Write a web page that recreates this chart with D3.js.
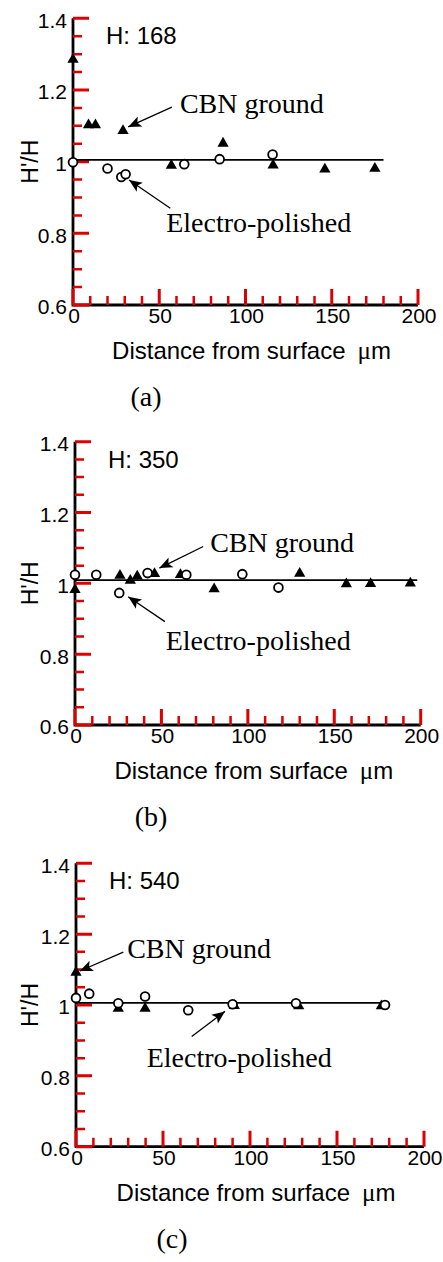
<!DOCTYPE html>
<html lang="en">
<head>
<meta charset="UTF-8">
<title>H'/H vs distance from surface</title>
<script src="https://cdn.jsdelivr.net/npm/d3@7"></script>
</head>
<body style="margin:0">
<svg id="chart" width="443" height="1262"></svg>
<script>
const SANS = "'Liberation Sans', Arial, sans-serif";
const SERIF = "'Liberation Serif', 'Times New Roman', serif";

// ticks
const xMajor = [0, 50, 100, 150, 200];
const xMajorLabels = ["0", "50", "100", "150", "200"];
const xMinor = [10, 20, 30, 40, 60, 70, 80, 90, 110, 120, 130, 140, 160, 170, 180, 190];
const yMajor = [0.6, 0.8, 1, 1.2, 1.4];
const yMajorLabels = ["0.6", "0.8", "1", "1.2", "1.4"];
const yMinor = [0.65, 0.7, 0.75, 0.85, 0.9, 0.95, 1.05, 1.1, 1.15, 1.25, 1.3, 1.35];

// (a) H: 168
const distA_cbn  = [0, 9, 13, 29, 57, 87, 116, 146, 175];
const ratioA_cbn = [1.285, 1.102, 1.102, 1.086, 0.989, 1.051, 0.99, 0.979, 0.981];
const distA_ep   = [0, 20, 28, 30.5, 64.5, 85, 115.7];
const ratioA_ep  = [0.998, 0.981, 0.957, 0.965, 0.993, 1.007, 1.02];

// (b) H: 350
const distB_cbn  = [0, 26, 32, 36, 46, 61, 80.5, 130, 157, 171, 194];
const ratioB_cbn = [0.982, 1.022, 1.008, 1.02, 1.027, 1.024, 0.984, 1.028, 0.998, 0.999, 1.0];
const distB_ep   = [0, 12.3, 25.6, 42, 64.4, 96.8, 117.7];
const ratioB_ep  = [1.024, 1.024, 0.973, 1.029, 1.024, 1.026, 0.988];

// (c) H: 540
const distC_cbn  = [0, 24.3, 39.7, 91, 128, 175.5];
const ratioC_cbn = [1.092, 0.99, 0.99, 0.998, 0.997, 0.997];
const distC_ep   = [0, 7.6, 24.3, 39.7, 64.5, 90, 126.4, 177.6];
const ratioC_ep  = [1.02, 1.032, 1.005, 1.024, 0.985, 1.002, 1.005, 1.0];

const panels = [
    { x0: 73, x1: 418, yb: 305, yt: 18.3, hard: "H: 168", cap: "(a)", capX: 146,
      cbn: distA_cbn.map((d, i) => [d, ratioA_cbn[i]]),
      ep: distA_ep.map((d, i) => [d, ratioA_ep[i]]),
      ref: [0, 180, 1.005],
      cbnArrow: [[57.3, 1.152], [32, 1.097]], cbnText: [62, 1.137],
      epArrow: [[56.4, 0.870], [32.5, 0.949]], epText: [54, 0.803] },
    { x0: 75, x1: 420.7, yb: 725, yt: 441.7, hard: "H: 350", cap: "(b)", capX: 151,
      cbn: distB_cbn.map((d, i) => [d, ratioB_cbn[i]]),
      ep: distB_ep.map((d, i) => [d, ratioB_ep[i]]),
      ref: [0, 198, 1.009],
      cbnArrow: [[74.2, 1.104], [48.8, 1.043]], cbnText: [78.2, 1.089],
      epArrow: [[52, 0.892], [30.8, 0.962]], epText: [52.5, 0.812] },
    { x0: 76, x1: 424, yb: 1146.7, yt: 863.3, hard: "H: 540", cap: "(c)", capX: 172,
      cbn: distC_cbn.map((d, i) => [d, ratioC_cbn[i]]),
      ep: distC_ep.map((d, i) => [d, ratioC_ep[i]]),
      ref: [0, 178, 1.006],
      cbnArrow: [[27.2, 1.149], [2.2, 1.096]], cbnText: [29.4, 1.133],
      epArrow: [[66.5, 0.911], [85.6, 0.982]], epText: [40.6, 0.826] }
];

const svg = d3.select("#chart");
svg.append("rect").attr("width", 443).attr("height", 1262).attr("fill", "#fff");

panels.forEach(p => {
    const x = d3.scaleLinear().domain([0, 200]).range([p.x0, p.x1]);
    const y = d3.scaleLinear().domain([0.6, 1.4]).range([p.yb, p.yt]);
    const g = svg.append("g");

    // axis lines
    g.append("path")
        .attr("d", `M${p.x0},${y(1.4)}V${p.yb}H${x(200)}`)
        .attr("fill", "none").attr("stroke", "#000").attr("stroke-width", 2.8);

    // inward ticks
    const major = [
        ...yMajor.map(v => `M${p.x0},${y(v)}h16`),
        ...xMajor.map(v => `M${x(v)},${p.yb}v-16`)
    ].join("");
    const minor = [
        ...yMinor.map(v => `M${p.x0},${y(v)}h9`),
        ...xMinor.map(v => `M${x(v)},${p.yb}v-9`)
    ].join("");
    g.append("path").attr("d", major)
        .attr("fill", "none").attr("stroke", "#d00").attr("stroke-width", 3);
    g.append("path").attr("d", minor)
        .attr("fill", "none").attr("stroke", "#d00").attr("stroke-width", 2.5);

    // tick labels
    g.selectAll(".ylab").data(yMajor).join("text")
        .attr("class", "ylab")
        .attr("x", p.x0 - 6).attr("y", d => y(d))
        .attr("dy", "0.45em").attr("text-anchor", "end")
        .attr("font-family", SANS).attr("font-size", 21)
        .text((d, i) => yMajorLabels[i]);
    g.selectAll(".xlab").data(xMajor).join("text")
        .attr("class", "xlab")
        .attr("x", d => x(d) + 1).attr("y", p.yb + 3)
        .attr("dy", "0.72em").attr("text-anchor", "middle")
        .attr("font-family", SANS).attr("font-size", 21)
        .text((d, i) => xMajorLabels[i]);

    // reference line H'/H = 1
    g.append("line")
        .attr("x1", x(p.ref[0])).attr("x2", x(p.ref[1]))
        .attr("y1", y(p.ref[2])).attr("y2", y(p.ref[2]))
        .attr("stroke", "#000").attr("stroke-width", 1.6);

    // CBN ground: filled triangles
    g.selectAll(".tri").data(p.cbn).join("path")
        .attr("class", "tri")
        .attr("transform", d => `translate(${x(d[0])},${y(d[1])})`)
        .attr("d", d3.symbol(d3.symbolTriangle, 55))
        .attr("fill", "#000");

    // Electro-polished: open circles
    g.selectAll(".circ").data(p.ep).join("circle")
        .attr("class", "circ")
        .attr("cx", d => x(d[0])).attr("cy", d => y(d[1]))
        .attr("r", 4.4)
        .attr("fill", "#fff").attr("stroke", "#000").attr("stroke-width", 1.8);

    // annotations: line plus a drawn arrowhead
    [[p.cbnArrow, p.cbnText, "CBN ground"], [p.epArrow, p.epText, "Electro-polished"]].forEach(([arr, pos, label]) => {
        const [ax, ay] = [x(arr[0][0]), y(arr[0][1])];
        const [bx, by] = [x(arr[1][0]), y(arr[1][1])];
        const ang = Math.atan2(by - ay, bx - ax) * 180 / Math.PI;
        g.append("line")
            .attr("x1", ax).attr("y1", ay).attr("x2", bx).attr("y2", by)
            .attr("stroke", "#000").attr("stroke-width", 1.3);
        g.append("path")
            .attr("transform", `translate(${bx},${by}) rotate(${ang})`)
            .attr("d", "M0,0 L-13,-5.5 L-10,0 L-13,5.5 Z")
            .attr("fill", "#000");
        g.append("text")
            .attr("x", x(pos[0])).attr("y", y(pos[1]))
            .attr("font-family", SERIF).attr("font-size", 28)
            .text(label);
    });

    // hardness label
    g.append("text")
        .attr("x", p.x0 + 33).attr("y", p.yt + 26)
        .attr("font-family", SANS).attr("font-size", 24)
        .text(p.hard);

    // y label
    g.append("text")
        .attr("transform", `translate(38,${(p.yb + p.yt) / 2}) rotate(-90)`)
        .attr("text-anchor", "middle")
        .attr("font-family", SANS).attr("font-size", 23)
        .text("H'/H");

    // x label
    const xl = g.append("text")
        .attr("x", (p.x0 + p.x1) / 2 + 6).attr("y", p.yb + 54)
        .attr("text-anchor", "middle")
        .attr("font-family", SANS).attr("font-size", 24);
    xl.append("tspan").text("Distance from surface");
    xl.append("tspan").attr("dx", 12).attr("font-family", SERIF).attr("font-size", 25).text("\u03bc");
    xl.append("tspan").text("m");

    // caption
    g.append("text")
        .attr("x", p.capX).attr("y", p.yb + 101)
        .attr("text-anchor", "middle")
        .attr("font-family", SERIF).attr("font-size", 28)
        .text(p.cap);
});
</script>
</body>
</html>
